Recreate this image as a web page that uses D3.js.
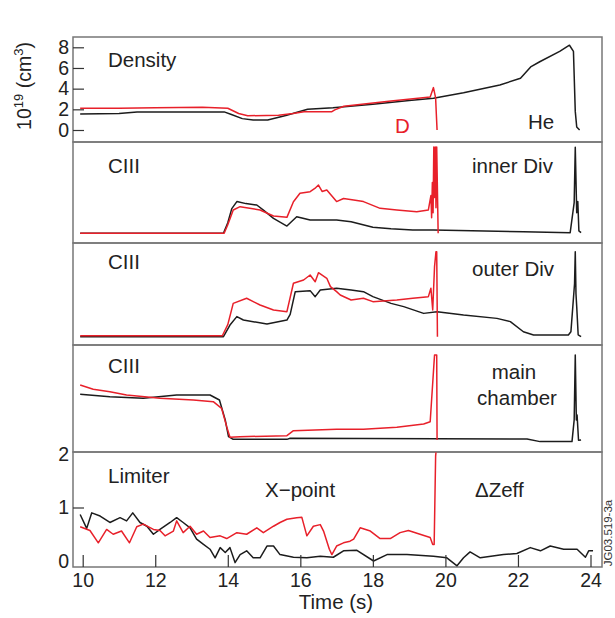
<!DOCTYPE html>
<html>
<head>
<meta charset="utf-8">
<script src="https://cdn.jsdelivr.net/npm/d3@7/dist/d3.min.js"></script>
<style>
  body { margin: 0; background: #fff; }
  svg { display: block; font-family: "Liberation Sans", Arial, sans-serif; }
  .frame { fill: none; stroke: #777; stroke-width: 1.5; }
  .trace { fill: none; stroke-width: 1.5; stroke-linejoin: round; }
  .black { stroke: #1c1c1c; }
  .red { stroke: #e8202a; }
  .axis text { font-size: 19.5px; fill: #222; font-family: "Liberation Sans", Arial, sans-serif; }
  .axis line { stroke: #333; stroke-width: 1.2; }
  .label { font-size: 20.5px; fill: #222; }
</style>
</head>
<body>
<svg id="chart" width="615" height="618"></svg>
<script>
// time ticks (s)
const timeTicks = [10, 12, 14, 16, 18, 20, 22, 24];
const densityTicks = [0, 2, 4, 6, 8];
const zeffTicks = [0, 1, 2];

// [time, value] pairs
// density in 1e19 cm^-3
const densityHe = [[9.93,1.55],[11.0,1.6],[11.5,1.75],[13.9,1.75],[14.1,1.5],[14.4,1.1],[14.7,0.97],[15.1,0.97],[15.6,1.4],[16.2,2.0],[16.9,2.16],[18.0,2.5],[19.0,2.85],[19.67,3.07],[20.5,3.6],[21.5,4.36],[22.07,5.0],[22.35,6.1],[22.6,6.6],[23.15,7.6],[23.42,8.2],[23.53,7.6],[23.58,1.8],[23.62,0.3],[23.7,0.0]];
const densityD = [[9.93,2.1],[11.0,2.1],[12.0,2.15],[13.3,2.2],[14.0,2.1],[14.3,1.6],[14.55,1.38],[15.4,1.42],[15.8,1.6],[16.1,1.77],[16.87,1.77],[16.95,1.95],[17.2,2.3],[18.5,2.8],[19.58,3.2],[19.67,4.1],[19.73,3.1],[19.75,1.5],[19.77,0.0]];

// CIII, arbitrary units (% of panel height)
const innerHe = [[9.93,9.6],[13.88,9.6],[14.0,20],[14.11,34],[14.25,41],[14.5,39],[14.8,37.6],[15.0,32],[15.26,24.4],[15.63,16.8],[15.9,26],[16.27,22.8],[17.0,22.8],[17.4,21],[18.0,15.5],[18.5,14],[19.1,12.9],[19.67,12.9],[22.15,11.2],[23.44,10.2],[23.55,40],[23.58,94.7],[23.62,30],[23.65,41],[23.68,12],[23.74,10.2]];
const innerD = [[9.93,9.6],[13.9,9.6],[14.0,18],[14.15,32.7],[14.34,36],[14.89,32.7],[15.26,26.7],[15.63,25.4],[15.81,40.9],[15.99,49.2],[16.27,50.8],[16.4,54],[16.5,57.4],[16.6,51],[16.73,52.5],[17.0,41],[17.19,44],[17.47,42.6],[17.74,41],[18.2,34.3],[18.66,32.7],[19.21,31],[19.53,32.7],[19.6,47],[19.62,25],[19.64,60],[19.66,30],[19.68,95],[19.7,45],[19.72,95],[19.74,35],[19.76,95],[19.8,9.6]];

const outerHe = [[9.93,8.2],[13.88,8.2],[14.06,19.6],[14.25,27.8],[14.43,24.5],[15.08,20.6],[15.63,24.5],[15.72,30],[15.86,52.3],[16.27,53.3],[16.41,47.4],[16.55,53.9],[17.0,55.6],[17.4,53.9],[17.74,52.3],[18.0,47.4],[18.5,40.8],[18.85,37.6],[19.4,31],[19.77,32.7],[20.5,29.4],[21.42,26.1],[21.79,22.9],[22.15,13],[22.43,9.8],[23.39,9.8],[23.46,13],[23.56,60],[23.58,91.5],[23.6,50],[23.62,37.6],[23.66,10],[23.74,8.2]];
const outerD = [[9.93,9.1],[13.85,9.1],[14.0,20],[14.15,40.8],[14.52,45.8],[14.89,39.2],[15.26,34.3],[15.63,32.7],[15.81,60.5],[16.09,63.7],[16.27,68.6],[16.41,62],[16.5,70.9],[16.73,65.4],[16.83,57.2],[17.0,52.3],[17.1,49],[17.4,44.1],[17.74,45.8],[18.0,42.5],[18.66,44.1],[19.1,45.8],[19.53,47.4],[19.6,55.6],[19.65,34.3],[19.7,76.8],[19.74,91.5],[19.76,91.5],[19.78,8.2]];

const mainHe = [[9.93,53.9],[10.75,51.7],[11.67,50.2],[12.59,53.3],[13.51,53.3],[13.77,48.6],[13.93,29.9],[14.02,14.3],[14.15,11.8],[15.63,11.8],[15.72,12.8],[22.25,12.1],[22.61,9.7],[23.49,9.7],[23.55,30],[23.58,90.7],[23.61,30],[23.63,34.6],[23.67,11],[23.74,11.2]];
const mainD = [[9.93,62.6],[10.29,58.6],[10.75,56.4],[11.21,53.3],[12.13,50.2],[13.05,48.6],[13.6,47],[13.83,40.8],[13.97,23.7],[14.06,13.7],[14.34,14.3],[15.63,15.3],[15.81,19.9],[17.0,21.2],[17.74,21.2],[18.66,23.1],[19.4,26.2],[19.58,28.3],[19.67,75],[19.7,90.7],[19.76,90.7],[19.77,11.2]];

// delta Zeff
const zeffHe = [[9.93,0.87],[10.11,0.61],[10.25,0.9],[10.48,0.84],[10.75,0.72],[11.03,0.81],[11.21,0.75],[11.38,0.9],[11.58,0.72],[11.77,0.65],[11.95,0.5],[12.13,0.59],[12.41,0.72],[12.59,0.81],[12.77,0.72],[12.96,0.62],[13.14,0.41],[13.33,0.31],[13.51,0.22],[13.65,0.06],[13.79,0.25],[13.93,0.16],[14.06,0.25],[14.2,-0.03],[14.34,0.12],[14.52,0.19],[14.7,0.06],[14.89,0.06],[15.08,0.28],[15.26,0.28],[15.44,0.12],[15.81,0.07],[16.18,0.06],[16.55,0.09],[16.91,0.07],[17.19,0.19],[17.56,0.2],[18.02,0.0],[18.39,0.12],[18.94,0.12],[19.67,0.09],[20.04,0.06],[20.32,-0.09],[20.5,0.06],[20.68,0.17],[20.96,0.06],[21.6,0.12],[21.97,0.14],[22.34,0.25],[22.62,0.19],[22.89,0.28],[23.26,0.22],[23.63,0.22],[23.86,0.07],[23.95,0.19],[24.07,0.19]];
const zeffD = [[9.93,0.64],[10.2,0.57],[10.43,0.34],[10.66,0.59],[10.84,0.5],[11.07,0.56],[11.29,0.34],[11.49,0.64],[11.67,0.69],[11.95,0.59],[12.13,0.57],[12.27,0.47],[12.5,0.56],[12.59,0.75],[12.77,0.53],[12.96,0.65],[13.14,0.5],[13.33,0.56],[13.51,0.44],[13.79,0.47],[13.97,0.42],[14.25,0.53],[14.52,0.5],[14.8,0.62],[14.98,0.53],[15.26,0.65],[15.44,0.72],[15.63,0.78],[15.9,0.81],[16.04,0.82],[16.18,0.47],[16.36,0.65],[16.55,0.68],[16.64,0.56],[16.8,0.22],[16.87,0.12],[17.0,0.28],[17.19,0.34],[17.37,0.37],[17.47,0.41],[17.65,0.62],[17.93,0.56],[18.2,0.42],[18.48,0.42],[18.75,0.53],[18.98,0.57],[19.3,0.5],[19.58,0.44],[19.65,0.31],[19.69,0.31],[19.73,1.96],[19.74,2.03]];

const svg = d3.select('#chart');
const left = 73, right = 602;

const x = d3.scaleLinear().domain([10, 24]).range([82.7, 590.5]);

const panels = [
  { top: 37, bottom: 142, domain: [0, 8], range: [130, 47.3], he: densityHe, d: densityD },
  { top: 142, bottom: 243, domain: [0, 100], range: [243, 142], he: innerHe, d: innerD },
  { top: 243, bottom: 345, domain: [0, 100], range: [345, 243], he: outerHe, d: outerD },
  { top: 345, bottom: 452, domain: [0, 100], range: [452, 345], he: mainHe, d: mainD },
  { top: 452, bottom: 567, domain: [0, 2], range: [561, 454], he: zeffHe, d: zeffD },
];

panels.forEach((p) => {
  p.y = d3.scaleLinear().domain(p.domain).range(p.range);
});

// frames
svg.append('g').attr('class', 'frames')
  .selectAll('rect')
  .data(panels)
  .enter()
  .append('rect')
  .attr('class', 'frame')
  .attr('x', left)
  .attr('y', d => d.top)
  .attr('width', right - left)
  .attr('height', d => d.bottom - d.top)
;

// traces, black (He) first then red (D)
const traces = svg.append('g').attr('class', 'traces');
panels.forEach((p) => {
  const line = d3.line()
    .x(d => x(d[0]))
    .y(d => p.y(d[1]));
  traces.append('path')
    .attr('class', 'trace black')
    .attr('d', line(p.he));
  traces.append('path')
    .attr('class', 'trace red')
    .attr('d', line(p.d));
});

// density axis
const densAxis = svg.append('g')
  .attr('class', 'axis')
  .attr('transform', `translate(${left},0)`)
  .call(d3.axisLeft(panels[0].y).tickValues(densityTicks).tickFormat(d3.format('d'))
    .tickSizeInner(-11).tickSizeOuter(0).tickPadding(4));
densAxis.select('.domain').remove();

// zeff axis
const zeffAxis = svg.append('g')
  .attr('class', 'axis')
  .attr('transform', `translate(${left},0)`)
  .call(d3.axisLeft(panels[4].y).tickValues(zeffTicks).tickFormat(d3.format('d'))
    .tickSizeInner(-11).tickSizeOuter(0).tickPadding(4));
zeffAxis.select('.domain').remove();
zeffAxis.selectAll('.tick line').filter(d => d !== 1).remove();

// time axis
const timeAxis = svg.append('g')
  .attr('class', 'axis')
  .attr('transform', `translate(0,${panels[4].bottom})`)
  .call(d3.axisBottom(x).tickValues(timeTicks).tickFormat(d3.format('d'))
    .tickSizeInner(-12).tickSizeOuter(0).tickPadding(6));
timeAxis.select('.domain').remove();

svg.append('text')
  .attr('class', 'label')
  .attr('x', 336)
  .attr('y', 609)
  .attr('text-anchor', 'middle')
  .text('Time (s)');

// y title
const yTitle = svg.append('text')
  .attr('class', 'label')
  .attr('transform', 'translate(31,86) rotate(-90)')
  .attr('text-anchor', 'middle')
  .style('font-size', '19.5px');
yTitle.append('tspan').text('10');
yTitle.append('tspan').attr('dy', -8).style('font-size', '13px').text('19');
yTitle.append('tspan').attr('dy', 8).text(' (cm');
yTitle.append('tspan').attr('dy', -8).style('font-size', '13px').text('3');
yTitle.append('tspan').attr('dy', 8).text(')');

// panel labels
const labels = [
  { t: 'Density', x: 108, y: 67 },
  { t: 'D', x: 395, y: 133, color: '#e8202a' },
  { t: 'He', x: 528, y: 129 },
  { t: 'CIII', x: 108, y: 173 },
  { t: 'inner Div', x: 472, y: 173 },
  { t: 'CIII', x: 108, y: 269 },
  { t: 'outer Div', x: 472, y: 276 },
  { t: 'CIII', x: 108, y: 373 },
  { t: 'main', x: 514, y: 379, anchor: 'middle' },
  { t: 'chamber', x: 517, y: 405, anchor: 'middle' },
  { t: 'Limiter', x: 108, y: 483 },
  { t: 'X\u2212point', x: 265, y: 497 },
  { t: '\u0394Zeff', x: 475, y: 497 },
];
svg.append('g').attr('class', 'labels')
  .selectAll('text')
  .data(labels)
  .enter()
  .append('text')
  .attr('class', 'label')
  .attr('x', d => d.x)
  .attr('y', d => d.y)
  .attr('text-anchor', d => d.anchor || 'start')
  .style('fill', d => d.color || null)
  .text(d => d.t);

svg.append('text')
  .attr('transform', 'translate(612,533) rotate(-90)')
  .attr('text-anchor', 'middle')
  .style('font-size', '11.5px')
  .style('fill', '#333')
  .text('JG03.519-3a');
</script>
</body>
</html>
